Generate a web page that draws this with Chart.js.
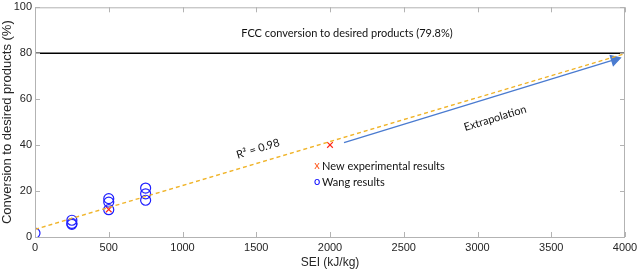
<!DOCTYPE html>
<html>
<head>
<meta charset="utf-8">
<script src="https://cdn.jsdelivr.net/npm/chart.js@4"></script>
<style>
  html, body { margin: 0; padding: 0; background: #fff; }
  #wrap { width: 638px; height: 270px; }
</style>
</head>
<body>
<div id="wrap"><canvas id="chart"></canvas></div>
<script>
// values
const wangSEI = [0, 250, 250, 250, 500, 500, 500, 750, 750, 750];
const wangConv = [1.7, 7.3, 5.9, 5.5, 16.7, 15.2, 11.9, 21.3, 18.8, 16.0];
const newSEI = [500, 2000];
const newConv = [12.0, 40.1];
const fitSEI = [0, 4000];
const fitConv = [3.3, 79.8];
const fccSEI = [0, 4000];
const fccConv = [80, 80];
const arrowSEI = [2095, 3930];
const arrowConv = [41.1, 77.2];
const xTicks = [0, 500, 1000, 1500, 2000, 2500, 3000, 3500, 4000];
const yTicks = [0, 20, 40, 60, 80, 100];

const toPts = (xs, ys) => xs.map((x, i) => ({ x: x, y: ys[i] }));

const textFont = '11px Lato';

// box, inner ticks and the text notes
const notesPlugin = {
  id: 'notes',
  afterDatasetsDraw(chart) {
    const ctx = chart.ctx;
    const a = chart.chartArea;
    const xs = chart.scales.x;
    const ys = chart.scales.y;
    ctx.save();
    ctx.strokeStyle = '#b3b3b3';
    ctx.lineWidth = 1;
    ctx.strokeRect(a.left + 0.5, a.top + 0.5, a.right - a.left - 1, a.bottom - a.top);
    ctx.beginPath();
    xTicks.forEach(v => {
      const px = Math.round(xs.getPixelForValue(v)) + 0.5;
      ctx.moveTo(px, a.bottom); ctx.lineTo(px, a.bottom - 5);
      ctx.moveTo(px, a.top); ctx.lineTo(px, a.top + 5);
    });
    yTicks.forEach(v => {
      const py = Math.round(ys.getPixelForValue(v)) + 0.5;
      ctx.moveTo(a.left, py); ctx.lineTo(a.left + 5, py);
      ctx.moveTo(a.right, py); ctx.lineTo(a.right - 5, py);
    });
    ctx.stroke();

    ctx.fillStyle = '#111';
    ctx.font = textFont;
    ctx.textBaseline = 'middle';
    ctx.textAlign = 'center';
    ctx.fillText('FCC conversion to desired products (79.8%)', xs.getPixelForValue(2115), ys.getPixelForValue(88.8));

    const rot = (txt, vx, vy, deg) => {
      ctx.save();
      ctx.translate(xs.getPixelForValue(vx), ys.getPixelForValue(vy));
      ctx.rotate(deg * Math.PI / 180);
      ctx.fillText(txt, 0, 0);
      ctx.restore();
    };
    rot('R\u00B2 = 0.98', 1512, 38.4, -17);
    rot('Extrapolation', 3119, 51.7, -17);

    ctx.textAlign = 'left';
    const lx = xs.getPixelForValue(1946);
    ctx.fillText('New experimental results', lx, ys.getPixelForValue(30.7));
    ctx.fillText('Wang results', lx, ys.getPixelForValue(23.7));
    ctx.textAlign = 'center';
    ctx.fillStyle = '#ff5a1f';
    ctx.fillText('x', lx - 5, ys.getPixelForValue(30.7) - 1);
    ctx.fillStyle = '#0000ff';
    ctx.fillText('o', lx - 5, ys.getPixelForValue(23.7) - 1);
    ctx.restore();
  }
};

const tickFont = { family: 'Liberation Sans', size: 11 };

new Chart(document.getElementById('chart'), {
  type: 'scatter',
  data: {
    datasets: [
      {
        label: 'FCC',
        type: 'line',
        data: toPts(fccSEI, fccConv),
        borderColor: '#000',
        borderWidth: 1.3,
        pointRadius: 0
      },
      {
        label: 'fit',
        type: 'line',
        data: toPts(fitSEI, fitConv),
        borderColor: '#f0b429',
        borderWidth: 1.4,
        borderDash: [4, 3],
        pointRadius: 0
      },
      {
        label: 'Extrapolation',
        type: 'line',
        data: toPts(arrowSEI, arrowConv),
        borderColor: '#4a7bd0',
        borderWidth: 1.3,
        pointRadius: [0, 6],
        pointStyle: 'triangle',
        rotation: 73,
        pointBackgroundColor: '#4a7bd0',
        pointBorderColor: '#4a7bd0'
      },
      {
        label: 'Wang results',
        data: toPts(wangSEI, wangConv),
        pointStyle: 'circle',
        pointRadius: 5,
        borderColor: '#1f1fff',
        backgroundColor: 'rgba(0,0,0,0)',
        borderWidth: 1.2
      },
      {
        label: 'New experimental results',
        data: toPts(newSEI, newConv),
        pointStyle: 'crossRot',
        pointRadius: 4,
        borderColor: '#ff2a1a',
        borderWidth: 1.2
      }
    ]
  },
  options: {
    responsive: true,
    maintainAspectRatio: false,
    animation: false,
    layout: { padding: { top: 5, right: 13, left: 0, bottom: 0 } },
    plugins: {
      legend: { display: false },
      tooltip: { enabled: false }
    },
    scales: {
      x: {
        type: 'linear',
        min: 0,
        max: 4000,
        afterBuildTicks: s => { s.ticks = xTicks.map(v => ({ value: v })); },
        grid: { display: false, drawTicks: false },
        border: { display: false },
        ticks: { color: '#262626', font: tickFont, padding: 4, maxRotation: 0, callback: v => String(v) },
        title: { display: true, text: 'SEI (kJ/kg)', color: '#262626', font: { family: 'Liberation Sans', size: 12 }, padding: { top: 1, bottom: 0 } },
        afterFit: s => { s.height = 33; s.paddingLeft = 0; s.paddingRight = 0; }
      },
      y: {
        type: 'linear',
        min: 0,
        max: 100,
        afterBuildTicks: s => { s.ticks = yTicks.map(v => ({ value: v })); },
        grid: { display: false, drawTicks: false },
        border: { display: false },
        ticks: { color: '#262626', font: tickFont, padding: 3, callback: v => String(v) },
        title: { display: true, text: 'Conversion to desired products (%)', color: '#262626', font: { family: 'Liberation Sans', size: 13 }, padding: { top: 0, bottom: 0 } },
        afterFit: s => { s.width = 35; s.paddingTop = 0; s.paddingBottom = 0; }
      }
    }
  },
  plugins: [notesPlugin]
});
</script>
</body>
</html>
